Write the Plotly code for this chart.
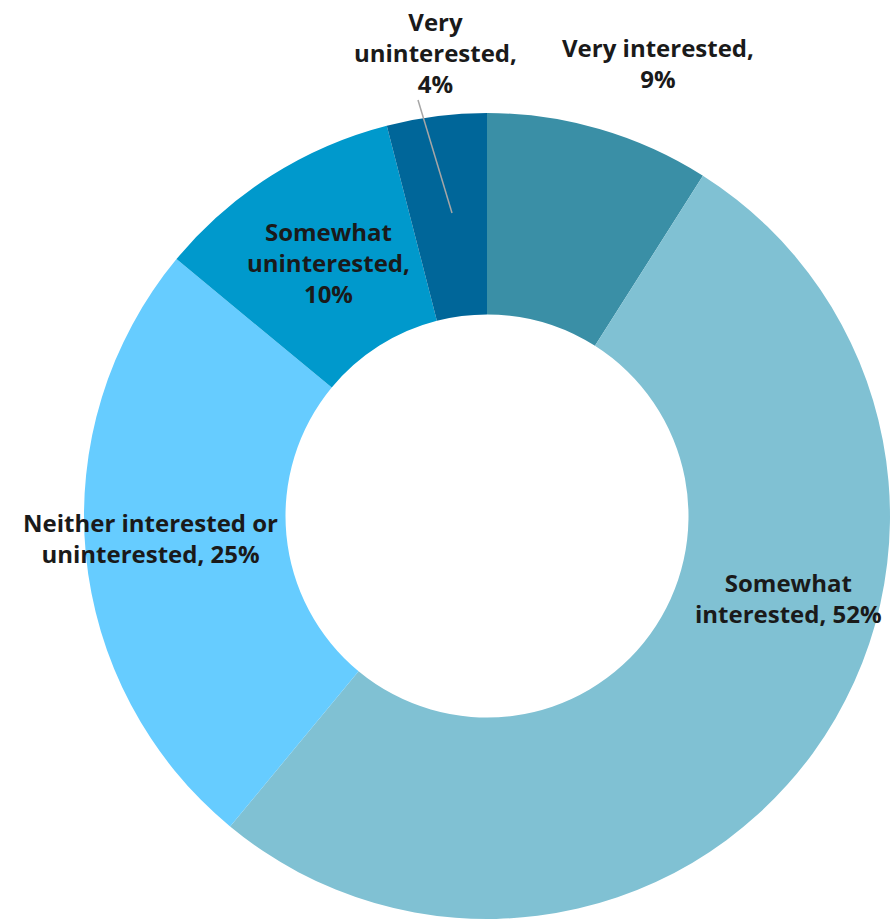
import plotly.graph_objects as go

categories = ["Very interested", "Somewhat interested", "Neither interested or uninterested",
              "Somewhat uninterested", "Very uninterested"]
values = [9, 52, 25, 10, 4]
colors = ["#3a8fa6", "#80c1d3", "#66ccff", "#0099cc", "#006699"]
label_texts = ["Very interested,<br>{v}%", "Somewhat<br>interested, {v}%",
               "Neither interested or<br>uninterested, {v}%",
               "Somewhat<br>uninterested,<br>{v}%", "Very<br>uninterested,<br>{v}%"]
# label centre positions in pixels (x, y) on the 890x922 page
label_pos = [(658, 63), (788, 598), (150, 538), (328, 262), (435, 52)]

W, H = 890, 922

fig = go.Figure(go.Pie(
    labels=categories, values=values, sort=False, direction="clockwise", rotation=0,
    hole=0.5, marker=dict(colors=colors, line=dict(width=0)),
    textinfo="none", hoverinfo="label+percent",
    domain=dict(x=[84 / W, 1.0], y=[1 - 919 / H, 1 - 113 / H]),
    showlegend=False,
))

anns = []
for t, v, (px, py) in zip(label_texts, values, label_pos):
    anns.append(dict(text="<b>" + t.format(v=v) + "</b>", x=px / W, y=1 - py / H,
                     xref="paper", yref="paper", showarrow=False,
                     xanchor="center", yanchor="middle",
                     font=dict(family="Open Sans", size=24, color="#1a1a1a")))

fig.update_layout(
    width=W, height=H, margin=dict(l=0, r=0, t=0, b=0),
    paper_bgcolor="white", plot_bgcolor="white",
    annotations=anns,
    shapes=[dict(type="line", xref="paper", yref="paper",
                 x0=418 / W, y0=1 - 100 / H, x1=452 / W, y1=1 - 213 / H,
                 line=dict(color="#a6a6a6", width=1.5))],
)

fig.write_html("out.html")
